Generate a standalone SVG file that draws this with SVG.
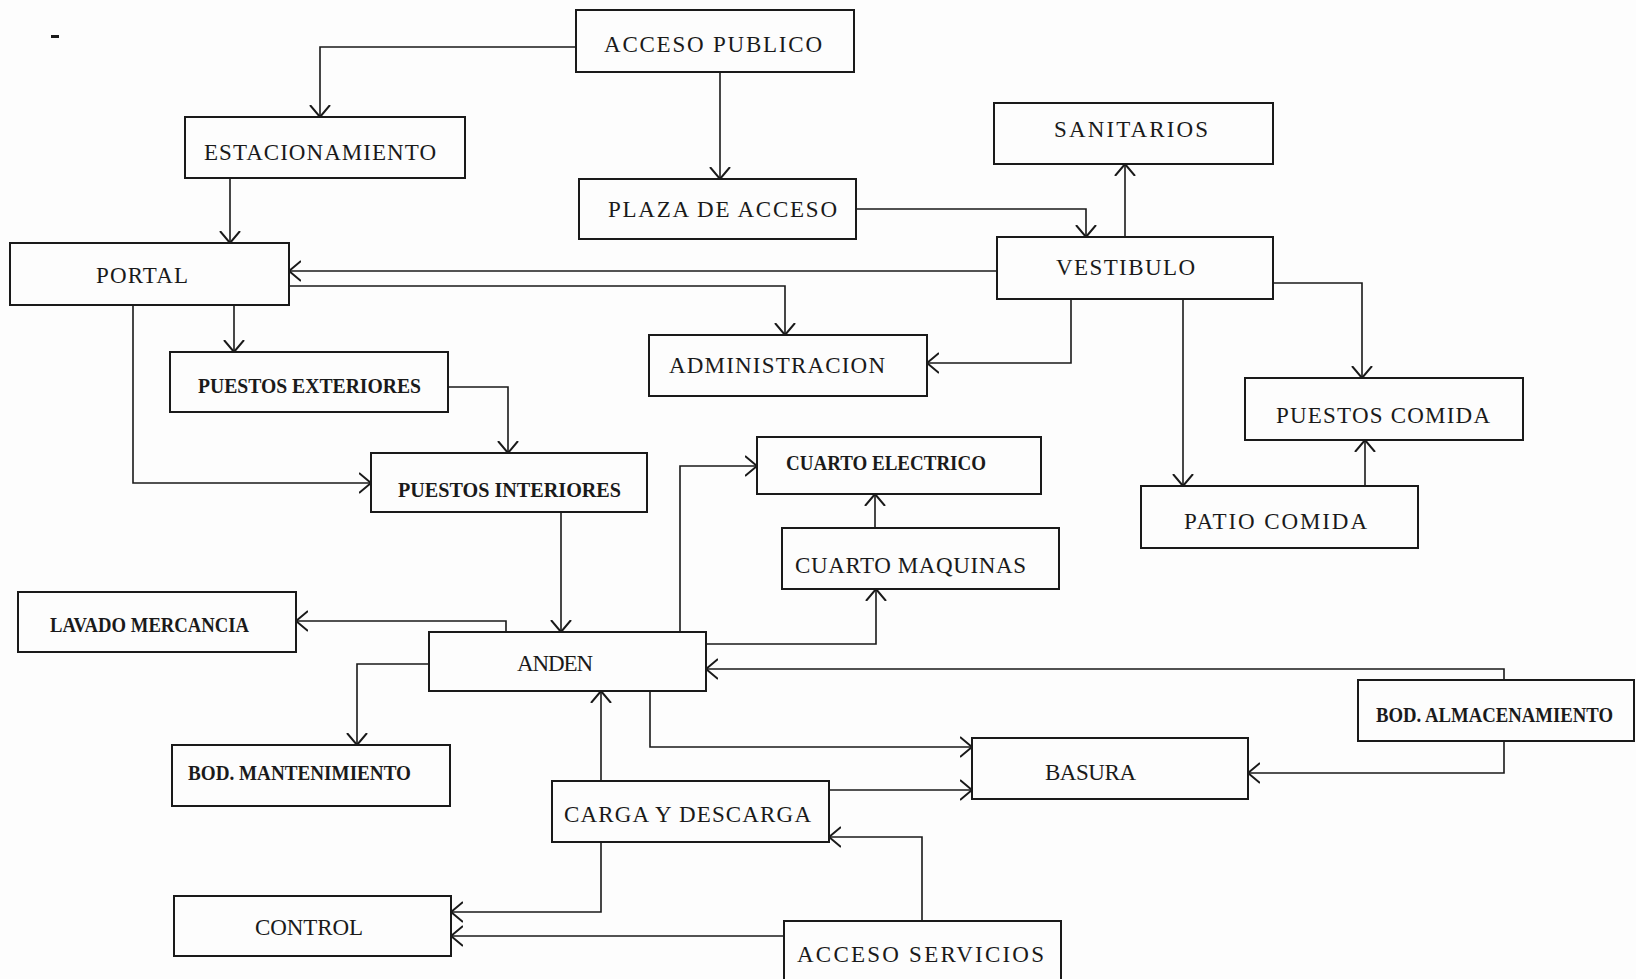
<svg xmlns="http://www.w3.org/2000/svg" width="1636" height="979" viewBox="0 0 1636 979">
<style>
.bg{fill:#fdfdfd}
.box{fill:none;stroke:#1a1a1a;stroke-width:2}
.lbl{font-family:"Liberation Serif","Times New Roman",serif;font-size:23px;fill:#1a1a1a}
.lbc{font-family:"Liberation Serif","Times New Roman",serif;font-size:20px;fill:#1a1a1a;font-weight:bold}
.con path{fill:none;stroke:#1a1a1a;stroke-width:1.6;marker-end:url(#arr)}
</style>
<defs>
<marker id="arr" viewBox="0 0 12 24" refX="12" refY="12" markerWidth="12" markerHeight="24" markerUnits="userSpaceOnUse" orient="auto">
<path d="M0,2 L12,12 L0,22" fill="none" stroke="#1a1a1a" stroke-width="2"/>
</marker>
</defs>
<rect class="bg" x="0" y="0" width="1636" height="979"/>
<rect x="51" y="35" width="8" height="3" fill="#1a1a1a"/>
<g id="connectors" class="con">
<path d="M576,47 H320 V117"/>
<path d="M720,72 V179"/>
<path d="M230,178 V243"/>
<path d="M856,209 H1086 V237"/>
<path d="M1125,237 V164"/>
<path d="M997,271 H289"/>
<path d="M289,286 H785 V335"/>
<path d="M1071,299 V363 H927"/>
<path d="M1273,283 H1362 V378"/>
<path d="M1183,299 V486"/>
<path d="M1365,486 V440"/>
<path d="M234,305 V352"/>
<path d="M133,305 V483 H371"/>
<path d="M448,387 H508 V453"/>
<path d="M561,512 V632"/>
<path d="M506,632 V621 H296"/>
<path d="M680,632 V466 H757"/>
<path d="M875,528 V494"/>
<path d="M706,644 H876 V589"/>
<path d="M1504,680 V669 H706"/>
<path d="M429,664 H357 V745"/>
<path d="M650,691 V747 H972"/>
<path d="M601,781 V691"/>
<path d="M829,790 H972"/>
<path d="M1504,741 V773 H1248"/>
<path d="M922,921 V837 H829"/>
<path d="M601,842 V912 H451"/>
<path d="M784,936 H451"/>
</g>
<g id="acceso-publico"><rect class="box" x="576" y="10" width="278" height="62"/><text class="lbl" x="604" y="52" textLength="218" lengthAdjust="spacing">ACCESO PUBLICO</text></g>
<g id="estacionamiento"><rect class="box" x="185" y="117" width="280" height="61"/><text class="lbl" x="204" y="160" textLength="232" lengthAdjust="spacing">ESTACIONAMIENTO</text></g>
<g id="plaza-de-acceso"><rect class="box" x="579" y="179" width="277" height="60"/><text class="lbl" x="608" y="217" textLength="229" lengthAdjust="spacing">PLAZA DE ACCESO</text></g>
<g id="sanitarios"><rect class="box" x="994" y="103" width="279" height="61"/><text class="lbl" x="1054" y="137" textLength="154" lengthAdjust="spacing">SANITARIOS</text></g>
<g id="portal"><rect class="box" x="10" y="243" width="279" height="62"/><text class="lbl" x="96" y="283" textLength="92" lengthAdjust="spacing">PORTAL</text></g>
<g id="vestibulo"><rect class="box" x="997" y="237" width="276" height="62"/><text class="lbl" x="1056" y="275" textLength="139" lengthAdjust="spacing">VESTIBULO</text></g>
<g id="puestos-exteriores"><rect class="box" x="170" y="352" width="278" height="60"/><text class="lbc" x="198" y="393" textLength="223" lengthAdjust="spacingAndGlyphs">PUESTOS EXTERIORES</text></g>
<g id="administracion"><rect class="box" x="649" y="335" width="278" height="61"/><text class="lbl" x="669" y="373" textLength="216" lengthAdjust="spacing">ADMINISTRACION</text></g>
<g id="puestos-comida"><rect class="box" x="1245" y="378" width="278" height="62"/><text class="lbl" x="1276" y="423" textLength="214" lengthAdjust="spacing">PUESTOS COMIDA</text></g>
<g id="puestos-interiores"><rect class="box" x="371" y="453" width="276" height="59"/><text class="lbc" x="398" y="497" textLength="223" lengthAdjust="spacingAndGlyphs">PUESTOS INTERIORES</text></g>
<g id="cuarto-electrico"><rect class="box" x="757" y="437" width="284" height="57"/><text class="lbc" x="786" y="470" textLength="200" lengthAdjust="spacingAndGlyphs">CUARTO ELECTRICO</text></g>
<g id="patio-comida"><rect class="box" x="1141" y="486" width="277" height="62"/><text class="lbl" x="1184" y="529" textLength="183" lengthAdjust="spacing">PATIO COMIDA</text></g>
<g id="cuarto-maquinas"><rect class="box" x="782" y="528" width="277" height="61"/><text class="lbl" x="795" y="573" textLength="231" lengthAdjust="spacing">CUARTO MAQUINAS</text></g>
<g id="lavado-mercancia"><rect class="box" x="18" y="592" width="278" height="60"/><text class="lbc" x="50" y="632" textLength="199" lengthAdjust="spacingAndGlyphs">LAVADO MERCANCIA</text></g>
<g id="anden"><rect class="box" x="429" y="632" width="277" height="59"/><text class="lbl" x="517" y="671" textLength="76" lengthAdjust="spacing">ANDEN</text></g>
<g id="bod-almacenamiento"><rect class="box" x="1358" y="680" width="276" height="61"/><text class="lbc" x="1376" y="722" textLength="237" lengthAdjust="spacingAndGlyphs">BOD. ALMACENAMIENTO</text></g>
<g id="bod-mantenimiento"><rect class="box" x="172" y="745" width="278" height="61"/><text class="lbc" x="188" y="780" textLength="223" lengthAdjust="spacingAndGlyphs">BOD. MANTENIMIENTO</text></g>
<g id="basura"><rect class="box" x="972" y="738" width="276" height="61"/><text class="lbl" x="1045" y="780" textLength="91" lengthAdjust="spacing">BASURA</text></g>
<g id="carga-y-descarga"><rect class="box" x="552" y="781" width="277" height="61"/><text class="lbl" x="564" y="822" textLength="247" lengthAdjust="spacing">CARGA Y DESCARGA</text></g>
<g id="control"><rect class="box" x="174" y="896" width="277" height="60"/><text class="lbl" x="255" y="935" textLength="108" lengthAdjust="spacing">CONTROL</text></g>
<g id="acceso-servicios"><rect class="box" x="784" y="921" width="277" height="70"/><text class="lbl" x="797" y="962" textLength="247" lengthAdjust="spacing">ACCESO SERVICIOS</text></g>
</svg>
